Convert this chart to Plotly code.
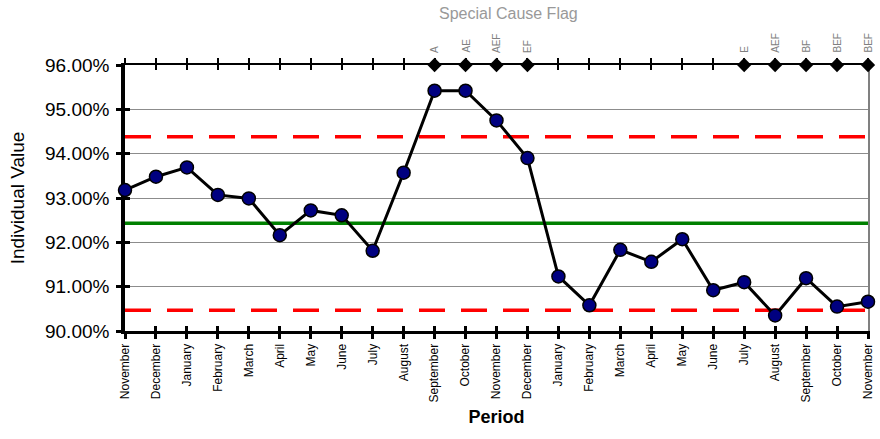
import plotly.graph_objects as go

periods = ["November", "December", "January", "February", "March", "April", "May",
           "June", "July", "August", "September", "October", "November", "December",
           "January", "February", "March", "April", "May", "June", "July", "August",
           "September", "October", "November"]
values = [93.18, 93.48, 93.69, 93.07, 92.99, 92.16, 92.72, 92.61, 91.81, 93.57,
          95.42, 95.42, 94.75, 93.90, 91.23, 90.58, 91.83, 91.56, 92.07, 90.92,
          91.10, 90.35, 91.19, 90.55, 90.66]
ucl = 94.38
center = 92.43
lcl = 90.47
flag_level = 96.0
flag_idx = [10, 11, 12, 13, 20, 21, 22, 23, 24]
flag_labels = ["A", "AE", "AEF", "EF", "E", "AEF", "BF", "BEF", "BEF"]
y_ticks = [90, 91, 92, 93, 94, 95, 96]
y_ticktext = ["%.2f%%" % v for v in y_ticks]

FONT = "Liberation Sans, Arial, sans-serif"
x = list(range(len(periods)))
n = len(periods)

fig = go.Figure()
fig.add_trace(go.Scatter(x=x, y=[ucl] * n, mode="lines",
                         line=dict(color="#ff0000", width=3.5, dash="26px,16px"),
                         hoverinfo="skip", showlegend=False))
fig.add_trace(go.Scatter(x=x, y=[lcl] * n, mode="lines",
                         line=dict(color="#ff0000", width=3.5, dash="26px,16px"),
                         hoverinfo="skip", showlegend=False))
fig.add_trace(go.Scatter(x=x, y=[center] * n, mode="lines",
                         line=dict(color="#008000", width=3.5),
                         hoverinfo="skip", showlegend=False))
fig.add_trace(go.Scatter(x=x, y=values, mode="lines+markers",
                         line=dict(color="#000000", width=3),
                         marker=dict(color="#000080", size=13,
                                     line=dict(color="#000000", width=1.5)),
                         cliponaxis=False, showlegend=False, name="Individual Value"))
fig.add_trace(go.Scatter(x=flag_idx, y=[flag_level] * len(flag_idx), mode="markers",
                         marker=dict(symbol="diamond", color="#000000", size=11),
                         cliponaxis=False, showlegend=False, name="Flag"))
# dummy traces to register overlay axes
for xa, ya in [("x2", "y"), ("x3", "y"), ("x4", "y"), ("x", "y2"), ("x", "y3")]:
    fig.add_trace(go.Scatter(x=[0], y=[flag_level], xaxis=xa, yaxis=ya, mode="markers",
                             marker=dict(opacity=0), hoverinfo="skip", showlegend=False))

for i, lab in zip(flag_idx, flag_labels):
    fig.add_annotation(x=i, y=flag_level, text=lab, showarrow=False, textangle=-90,
                       yanchor="bottom", yshift=10,
                       font=dict(family=FONT, size=10, color="#808080"))

xr = [0, n - 1]
yr = [y_ticks[0], y_ticks[-1]]
fig.update_layout(
    width=880, height=439,
    margin=dict(l=125, r=5, t=65, b=108),
    paper_bgcolor="white", plot_bgcolor="white",
    font=dict(family=FONT, color="#000000"),
    title=dict(text="Special Cause Flag", x=0.516, xref="paper", xanchor="center",
               y=1 - 13 / 439, yref="container", yanchor="middle",
               font=dict(family=FONT, size=16, color="#999999")),
    xaxis=dict(range=xr, tickmode="array", tickvals=x, ticktext=periods, tickangle=-90,
               tickfont=dict(size=12, family=FONT), ticks="outside", ticklen=5, tickwidth=3,
               tickcolor="#000000", showline=True, linecolor="#000000", linewidth=3,
               showgrid=False, zeroline=False, layer="below traces",
               ticklabeloverflow="allow",
               title=dict(text="<b>Period</b>", font=dict(size=18, family=FONT), standoff=9)),
    xaxis3=dict(range=xr, overlaying="x", anchor="y", side="bottom", tickmode="array",
                tickvals=x, showticklabels=False, ticks="inside", ticklen=5, tickwidth=3,
                tickcolor="#000000", showline=False, showgrid=False, zeroline=False,
                layer="below traces"),
    xaxis2=dict(range=xr, overlaying="x", anchor="y", side="top", tickmode="array",
                tickvals=x, showticklabels=False, ticks="outside", ticklen=5, tickwidth=1.5,
                tickcolor="#000000", showline=True, linecolor="#000000", linewidth=2,
                showgrid=False, zeroline=False, layer="below traces"),
    xaxis4=dict(range=xr, overlaying="x", anchor="y", side="top", tickmode="array",
                tickvals=x, showticklabels=False, ticks="inside", ticklen=5, tickwidth=1.5,
                tickcolor="#000000", showline=False, showgrid=False, zeroline=False,
                layer="below traces"),
    yaxis=dict(range=yr, tickmode="array", tickvals=y_ticks, ticktext=y_ticktext,
               tickfont=dict(size=19, family=FONT), ticks="outside", ticklen=5, tickwidth=3,
               tickcolor="#000000", showline=True, linecolor="#000000", linewidth=3.5,
               showgrid=True, gridcolor="#8c8c8c", gridwidth=1, zeroline=False,
               ticklabelstandoff=3, layer="below traces",
               title=dict(text="Individual Value", font=dict(size=19, family=FONT), standoff=16)),
    yaxis2=dict(range=yr, overlaying="y", anchor="x", side="left", tickmode="array",
                tickvals=y_ticks, showticklabels=False, ticks="inside", ticklen=5, tickwidth=3,
                tickcolor="#000000", showline=False, showgrid=False, zeroline=False,
                layer="below traces"),
    yaxis3=dict(range=yr, overlaying="y", anchor="x", side="right", showticklabels=False,
                ticks="", showline=True, linecolor="#808080", linewidth=1.5,
                showgrid=False, zeroline=False, layer="below traces"),
)

fig.write_html("out.html", config={"displayModeBar": False},
               post_script="document.body.style.margin='0';document.documentElement.style.overflow='hidden';document.body.style.overflow='hidden';")
